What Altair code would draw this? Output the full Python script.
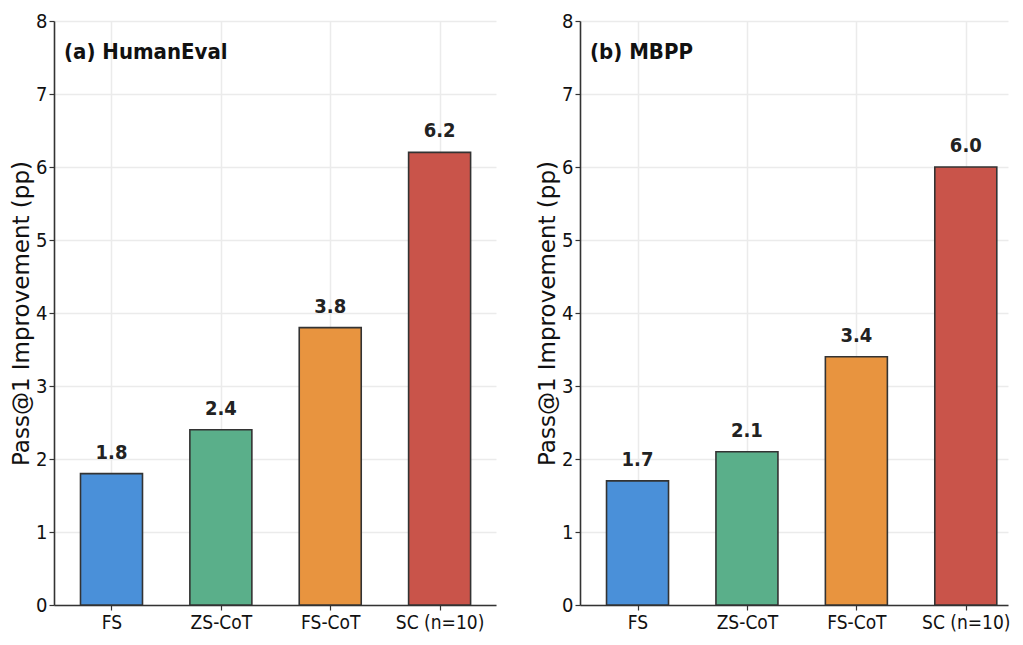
import altair as alt
import pandas as pd

categories = ["FS", "ZS-CoT", "FS-CoT", "SC (n=10)"]
humaneval = [1.8, 2.4, 3.8, 6.2]
mbpp = [1.7, 2.1, 3.4, 6.0]
colors = ["#4a90d9", "#5aaf8a", "#e8943f", "#c9544a"]
y_ticks = [0, 1, 2, 3, 4, 5, 6, 7, 8]
panel_titles = ["(a) HumanEval", "(b) MBPP"]
y_title = "Pass@1 Improvement (pp)"

COND = "DejaVu Sans Condensed, DejaVu Sans, sans-serif"
PLAIN = "DejaVu Sans, sans-serif"


def panel(values, title, width, xmax):
    df = pd.DataFrame({"idx": list(range(len(categories))), "cat": categories, "val": values})
    label_expr = "[" + ",".join(f"'{c}'" for c in categories) + "][datum.value]"
    x = alt.X(
        "idx:Q",
        scale=alt.Scale(domain=[-0.48, xmax], nice=False, zero=False),
        axis=alt.Axis(values=list(range(len(categories))), labelExpr=label_expr, title=None,
                      labelFont=COND, labelFontSize=19, labelColor="#111", labelPadding=3),
    )
    y = alt.Y(
        "val:Q",
        scale=alt.Scale(domain=[0, 8], nice=False),
        axis=alt.Axis(values=y_ticks, format="d", title=y_title, titleFont=PLAIN, titleFontSize=23,
                      titleFontWeight="normal", titleColor="#111", titlePadding=2,
                      labelFont=COND, labelFontSize=20, labelColor="#111", labelPadding=2),
    )
    bars = alt.Chart(df).mark_bar(width=62, stroke="#333333", strokeWidth=1.6).encode(
        x=x,
        y=y,
        color=alt.Color("cat:N", scale=alt.Scale(domain=categories, range=colors), legend=None),
    )
    labels = alt.Chart(df).mark_text(
        dy=-11, baseline="bottom", font=COND, fontWeight="bold", fontSize=20, color="#222222"
    ).encode(x="idx:Q", y="val:Q", text=alt.Text("val:Q", format=".1f"))
    ttl = alt.Chart(pd.DataFrame({"t": [title]})).mark_text(
        align="left", baseline="middle", font=COND, fontWeight="bold", fontSize=22, color="#111111"
    ).encode(x=alt.value(10), y=alt.value(31), text="t:N")
    return alt.layer(bars, labels, ttl).properties(width=width, height=584)


left = panel(humaneval, panel_titles[0], 442, 3.47)
right = panel(mbpp, panel_titles[1], 428, 3.34)

chart = alt.hconcat(left, right, spacing=40).properties(padding={"left": 2, "top": 3, "right": 0, "bottom": 0}).configure_view(
    stroke=None
).configure_axis(
    grid=True, gridColor="#ebebeb", gridWidth=1.5,
    domainColor="#333333", domainWidth=1.6,
    tickColor="#333333", tickSize=5, tickWidth=1.2,
)

chart.save("out.html", embed_options={"renderer": "svg", "actions": False})
